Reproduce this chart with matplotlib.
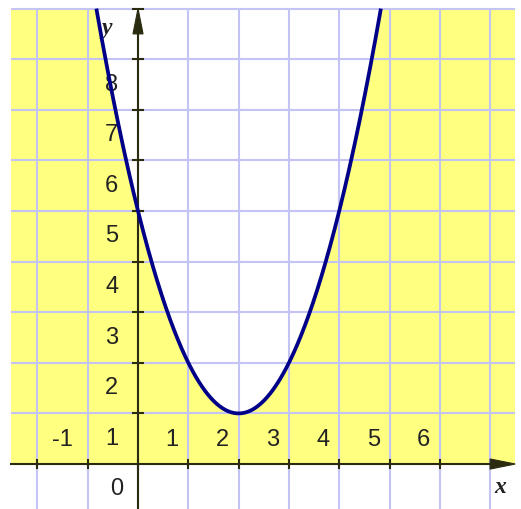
import numpy as np
import matplotlib
matplotlib.use("Agg")
import matplotlib.pyplot as plt
from matplotlib.patches import Rectangle, Polygon

# graph of y = x^2 - 4x + 5 (vertex at (2, 1))
COEFFS = [1, -4, 5]
X_LABELS = ["-1", "1", "2", "3", "4", "5", "6"]
X_LABEL_VALUES = [-1, 1, 2, 3, 4, 5, 6]
Y_LABELS = ["1", "2", "3", "4", "5", "6", "7", "8"]
Y_LABEL_VALUES = [1, 2, 3, 4, 5, 6, 7, 8]
X_GRID = list(range(-2, 8))
Y_GRID = list(range(1, 10))

XMIN, XMAX = -2.52, 7.5   # shaded window
YTOP = 9

YELLOW = "#ffff80"
GRID = "#c4c4f4"
AXIS = "#2b2b10"
CURVE = "#000088"

fig = plt.figure(figsize=(5.21, 5.09), dpi=100)
ax = fig.add_axes([0, 0, 1, 1])
ax.set_xlim(-2.744, 7.614)
ax.set_ylim(-0.889, 9.17)
ax.axis("off")

# yellow region y <= f(x), white above curve
ax.add_patch(Rectangle((XMIN, 0), XMAX - XMIN, YTOP, facecolor=YELLOW,
                       edgecolor="none", zorder=0))
r = np.roots([COEFFS[0], COEFFS[1], COEFFS[2] - YTOP])
xa, xb = sorted(r.real)
xs = np.linspace(xa, xb, 400)
ys = np.polyval(COEFFS, xs)
ax.add_patch(Polygon(np.column_stack([xs, ys]), closed=True, facecolor="white",
                     edgecolor="none", zorder=1))

# grid
for gx in X_GRID:
    ax.plot([gx, gx], [-0.9, YTOP], color=GRID, lw=1.5, zorder=2,
            solid_capstyle="butt")
for gy in Y_GRID:
    ax.plot([XMIN, XMAX], [gy, gy], color=GRID, lw=1.5, zorder=2,
            solid_capstyle="butt")

# axes with ticks
ax.plot([XMIN, 7.2], [0, 0], color=AXIS, lw=1.5, zorder=3)
ax.plot([0, 0], [-0.9, 8.6], color=AXIS, lw=1.5, zorder=3)
ax.add_patch(Polygon([[7.0, 0.1], [7.0, -0.1], [7.5, 0]], closed=True,
                     facecolor=AXIS, edgecolor=AXIS, lw=0.8, zorder=3))
ax.add_patch(Polygon([[-0.1, 8.5], [0.1, 8.5], [0, 9.0]], closed=True,
                     facecolor=AXIS, edgecolor=AXIS, lw=0.8, zorder=3))
ax.plot([-0.1, 0.1], [9.0, 9.0], color=AXIS, lw=1.5, zorder=3)
for gx in X_GRID[:-1]:
    ax.plot([gx, gx], [-0.08, 0.08], color=AXIS, lw=1.5, zorder=3)
for gy in Y_GRID[:-1]:
    ax.plot([-0.1, 0.1], [gy, gy], color=AXIS, lw=1.5, zorder=3)

# tick labels
font = ["Liberation Sans Narrow", "Liberation Sans", "DejaVu Sans"]
for v, lab in zip(X_LABEL_VALUES, X_LABELS):
    off = -0.5 if v < 0 else -0.32
    ax.text(v + off, 0.47, lab, ha="center", va="center", fontsize=17,
            family=font, color="#222", zorder=4)
for v, lab in zip(Y_LABEL_VALUES, Y_LABELS):
    ax.text(-0.52, v - 0.5, lab, ha="center", va="center", fontsize=17,
            family=font, color="#222", zorder=4)
ax.text(-0.42, -0.5, "0", ha="center", va="center", fontsize=17,
        family=font, color="#222", zorder=4)
ax.text(7.2, -0.47, "x", ha="center", va="center", fontsize=17,
        family="Liberation Serif", style="italic", weight="bold",
        color="#222", zorder=4)
ax.text(-0.62, 8.6, "y", ha="center", va="center", fontsize=17,
        family="Liberation Serif", style="italic", weight="bold",
        color="#222", zorder=4)

# curve, cut at the top of the window
xc = np.linspace(xa, xb, 600)
ax.plot(xc, np.polyval(COEFFS, xc), color=CURVE, lw=2.7, zorder=5,
        solid_capstyle="butt")

fig.savefig("out.png", dpi=100)
